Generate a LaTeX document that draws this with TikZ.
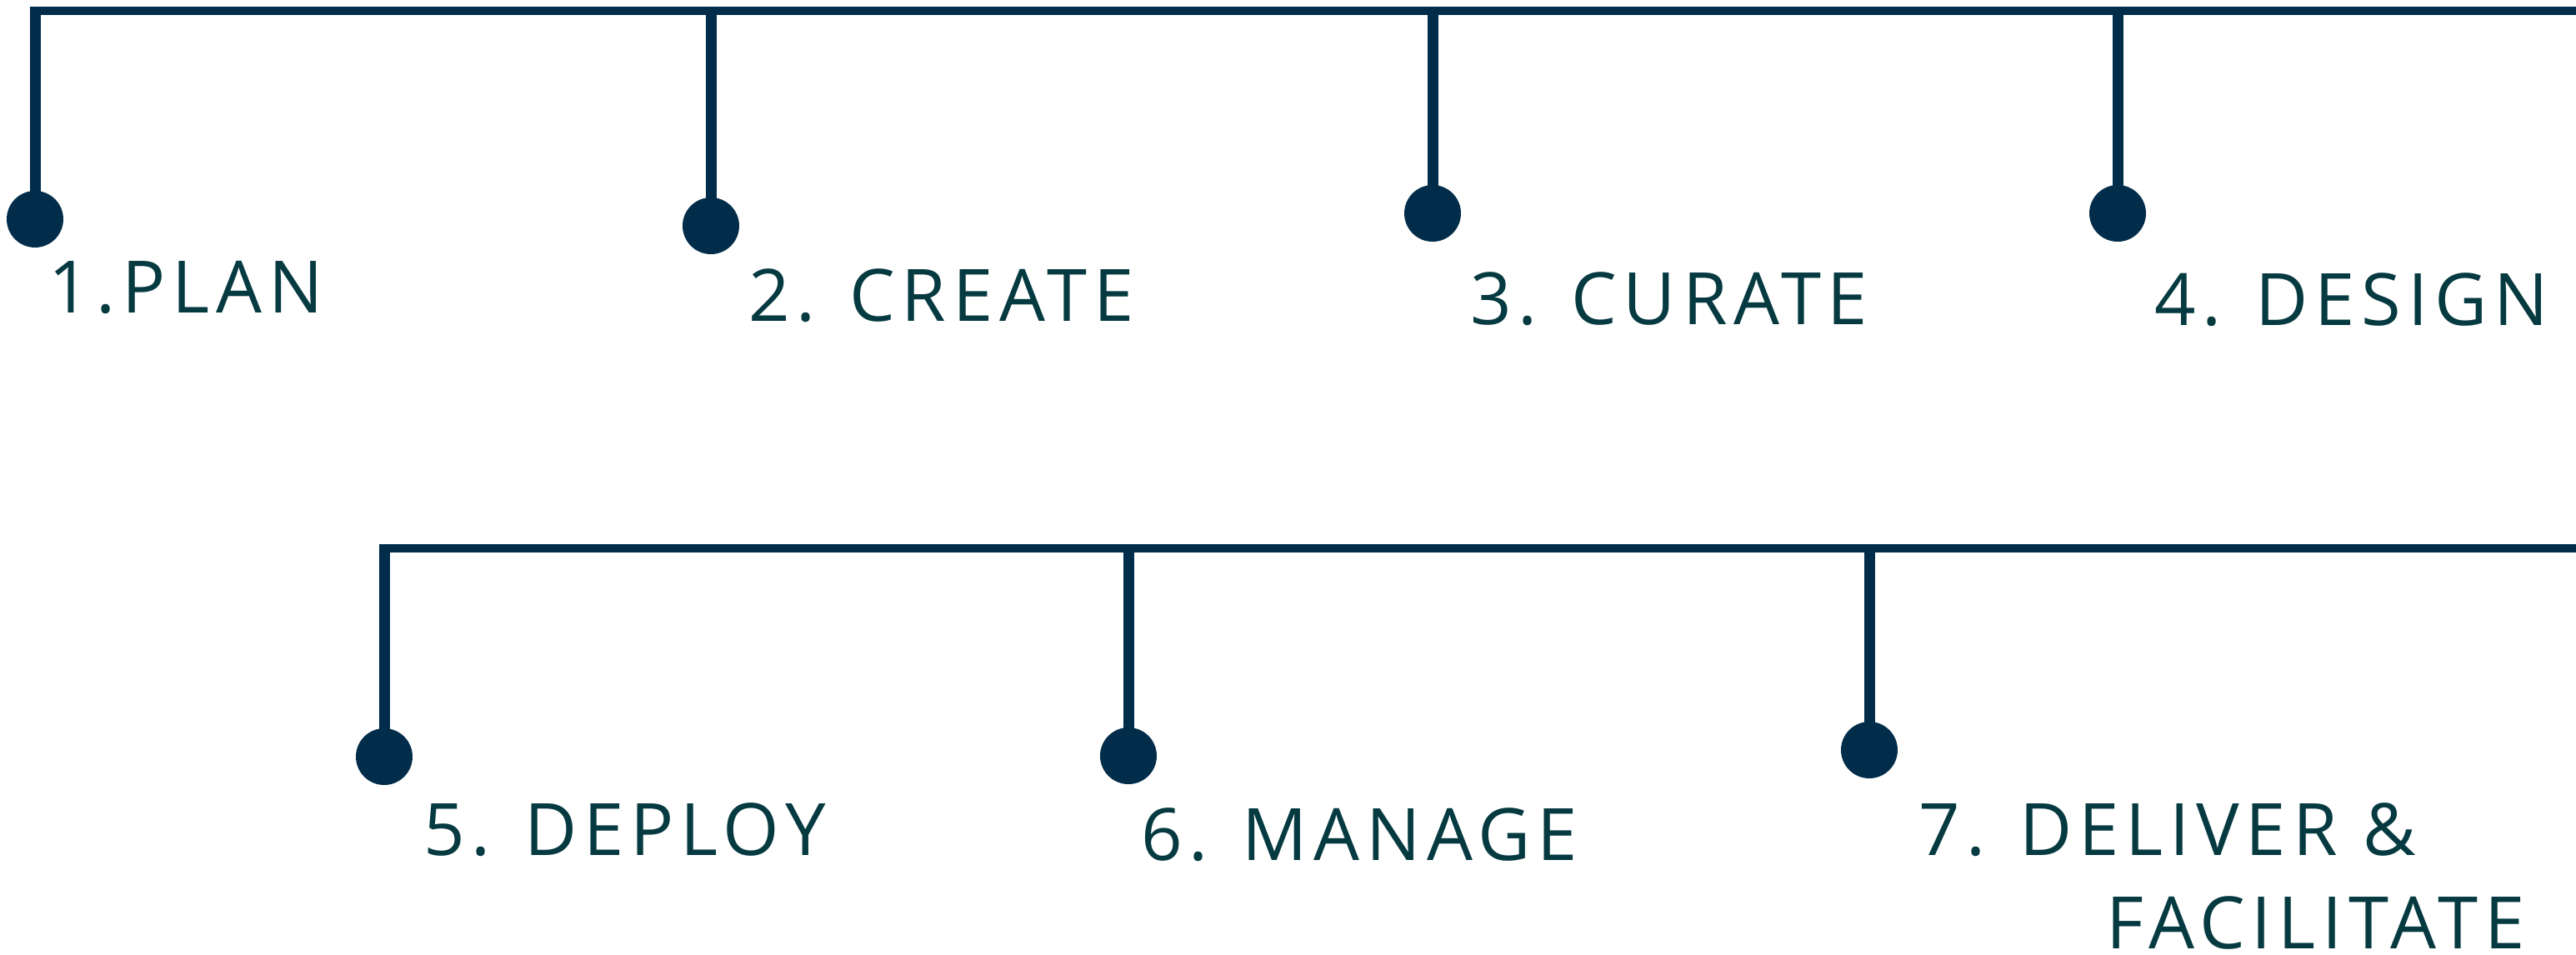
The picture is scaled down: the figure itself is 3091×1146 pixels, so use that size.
\documentclass[tikz,border=0pt]{standalone}
\usepackage{fontspec}
\setmainfont{Open Sans}
\newfontfamily\stagefont[LetterSpace=9]{Open Sans}
\usetikzlibrary{positioning}
\definecolor{barnavy}{HTML}{022D4A}
\definecolor{stagetext}{HTML}{063A41}

\begin{document}
\begin{tikzpicture}[x=0.5pt,y=-0.5pt,
  dot/.style={circle,fill=barnavy,inner sep=0pt,minimum size=34pt},
  hbar/.style={draw=barnavy,line width=4.75pt},
  vbar/.style={draw=barnavy,line width=6.5pt},
  stage/.style={anchor=base west,inner sep=0pt,align=left,text=stagetext,
    font=\stagefont\fontsize{43.4pt}{56pt}\selectfont}]
\useasboundingbox (0,0) rectangle (3091,1146);
% first row
\node[dot] (d1) at (42,263) {};
\node[dot] (d2) at (853,271) {};
\node[dot] (d3) at (1719,256) {};
\node[dot] (d4) at (2541,256) {};
\coordinate (c1) at (42,13);
\coordinate (e1) at (3091,13);
\draw[hbar] ([xshift=-3.25pt]c1) -- (e1);
\draw[vbar] (d1.center) -- ([yshift=2.4pt]c1);
\draw[vbar] (d2.center) -- (d2 |- e1);
\draw[vbar] (d3.center) -- (d3 |- e1);
\draw[vbar] (d4.center) -- (d4 |- e1);
\node[stage] (l1) at (58,375) {1.PLAN};
\node[stage] (l2) at (898,385) {2. CREATE};
\node[stage] (l3) at (1764,389) {3. CURATE};
\node[stage] (l4) at (2585,390) {4. DESIGN};
% second row
\node[dot] (d5) at (461,908) {};
\node[dot] (d6) at (1354,907) {};
\node[dot] (d7) at (2243,900) {};
\coordinate (c2) at (461,658);
\coordinate (e2) at (3091,658);
\draw[hbar] ([xshift=-3.25pt]c2) -- (e2);
\draw[vbar] (d5.center) -- ([yshift=2.4pt]c2);
\draw[vbar] (d6.center) -- (d6 |- e2);
\draw[vbar] (d7.center) -- (d7 |- e2);
\node[stage] (l5) at (508,1026) {5. DEPLOY};
\node[stage] (l6) at (1369,1032) {6. MANAGE};
\node[stage] (l7) at (2302,1138) {7. DELIVER \&\\\hspace*{112.5pt}FACILITATE};
\end{tikzpicture}
\end{document}
